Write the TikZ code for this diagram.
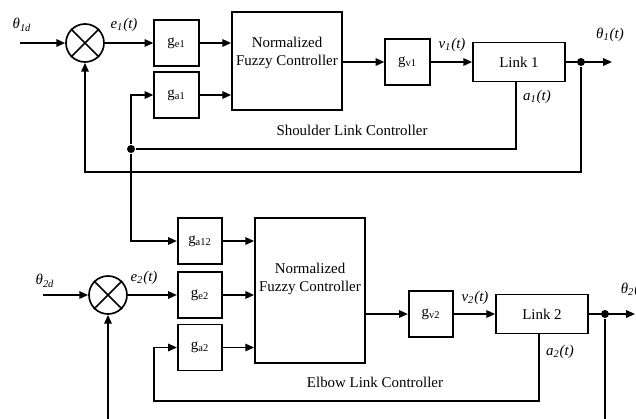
\documentclass[tikz,border=0pt]{standalone}
\usepackage{fontspec}
\setmainfont{Liberation Serif}
\usetikzlibrary{arrows.meta}
\newcommand{\sig}[2]{\textit{#1\textsubscript{#2}(t)}}
\begin{document}
\begin{tikzpicture}[x=0.02cm,y=-0.02cm,line width=0.95pt,
    font=\fontsize{8.5}{10}\selectfont,
    >={Triangle[length=5pt,width=4.2pt]},
    gainbox/.style={draw,minimum width=0.89cm,minimum height=0.92cm,inner sep=0pt},
    fuzbox/.style={draw,minimum width=2.2cm,inner sep=0pt},
    linkbox/.style={draw,minimum width=1.84cm,minimum height=0.78cm,inner sep=0pt},
    sumnode/.style={draw,circle,minimum size=0.76cm,inner sep=0pt},
    jdot/.style={circle,fill=black,minimum size=0.16cm,inner sep=0pt},
    lbl/.style={inner sep=0pt}]
        \useasboundingbox (0,0) rectangle (636,419);
        % shoulder link
        \node[sumnode] (sum1) at (85,43) {};
        \draw (sum1.45) -- (sum1.225);
        \draw (sum1.135) -- (sum1.315);
        \node[gainbox] (ge1) at (176.5,43) {g\textsubscript{e1}};
        \node[gainbox] (ga1) at (176.5,95) {g\textsubscript{a1}};
        \node[fuzbox,minimum height=1.96cm] (fuz1) at (287,61) {};
        \node[lbl,align=center] (fuz1txt) at (287,53) {Normalized\\Fuzzy Controller};
        \node[gainbox] (gv1) at (407.5,62) {g\textsubscript{v1}};
        \node[linkbox] (link1) at (519,62) {Link 1};
        \node[jdot] (dot1) at (581,62) {};
        \node[jdot] (j1) at (131,149) {};
        \coordinate (in1) at (20,43);
        \coordinate (out1) at (612,62);
        \coordinate (a1c) at (516,149);
        \draw[->] (in1) -- (sum1.west);
        \draw[->] (sum1.east) -- (ge1.west);
        \draw[->] (ge1.east) -- (ge1.east -| fuz1.west);
        \draw[->] (ga1.east) -- (ga1.east -| fuz1.west);
        \draw[->] (fuz1.east |- gv1.west) -- (gv1.west);
        \draw[->] (gv1.east) -- (link1.west);
        \draw[->] (link1.east) -- (out1);
        \draw (link1.south -| a1c) -- (a1c) -- (j1);
        \draw[->] (j1) |- (ga1.west);
        \draw[->] (dot1) -- ++(0,110) -| (sum1.south);
        \node[lbl] at (22,25) {\textit{θ\textsubscript{1d}}};
        \node[lbl] at (124,25) {\sig{e}{1}};
        \node[lbl] at (452,45) {\sig{v}{1}};
        \node[lbl] at (610,35) {\textit{θ\textsubscript{1}(t)}};
        \node[lbl] at (537,97) {\sig{a}{1}};
        \node[lbl] at (352,130) {Shoulder Link Controller};
        % elbow link
        \node[sumnode] (sum2) at (108,295) {};
        \draw (sum2.45) -- (sum2.225);
        \draw (sum2.135) -- (sum2.315);
        \node[gainbox] (ga12) at (200,241) {g\textsubscript{a12}};
        \node[gainbox] (ge2) at (200,295) {g\textsubscript{e2}};
        \node[gainbox] (ga2) at (200,347.5) {g\textsubscript{a2}};
        \node[fuzbox,minimum height=2.9cm] (fuz2) at (310,290.5) {};
        \node[lbl,align=center] (fuz2txt) at (310,279) {Normalized\\Fuzzy Controller};
        \node[gainbox] (gv2) at (431,314) {g\textsubscript{v2}};
        \node[linkbox] (link2) at (542,314) {Link 2};
        \node[jdot] (dot2) at (605,314) {};
        \coordinate (in2) at (43,295);
        \coordinate (out2) at (635,314);
        \coordinate (fb2) at (108,419);
        \coordinate (fb2b) at (605,419);
        \coordinate (a2c) at (154,401);
        \draw[->] (j1) |- (ga12.west);
        \draw[->] (in2) -- (sum2.west);
        \draw[->] (sum2.east) -- (ge2.west);
        \draw[->] (fb2) -- (sum2.south);
        \draw[->] (ga12.east) -- (ga12.east -| fuz2.west);
        \draw[->] (ge2.east) -- (ge2.east -| fuz2.west);
        \draw[->] (ga2.east) -- (ga2.east -| fuz2.west);
        \draw[->] (fuz2.east |- gv2.west) -- (gv2.west);
        \draw[->] (gv2.east) -- (link2.west);
        \draw[->] (link2.east) -- (out2);
        \draw (dot2) -- (fb2b);
        \draw[->] ([xshift=-0.06cm]link2.south) |- (a2c) |- (ga2.west);
        \node[lbl] at (45,281) {\textit{θ\textsubscript{2d}}};
        \node[lbl] at (144,278) {\sig{e}{2}};
        \node[lbl] at (475,298) {\sig{v}{2}};
        \node[lbl,anchor=west] at (620,290) {\textit{θ\textsubscript{2}(t)}};
        \node[lbl] at (560,352) {\sig{a}{2}};
        \node[lbl] at (375,382) {Elbow Link Controller};
    \end{tikzpicture}
\end{document}
